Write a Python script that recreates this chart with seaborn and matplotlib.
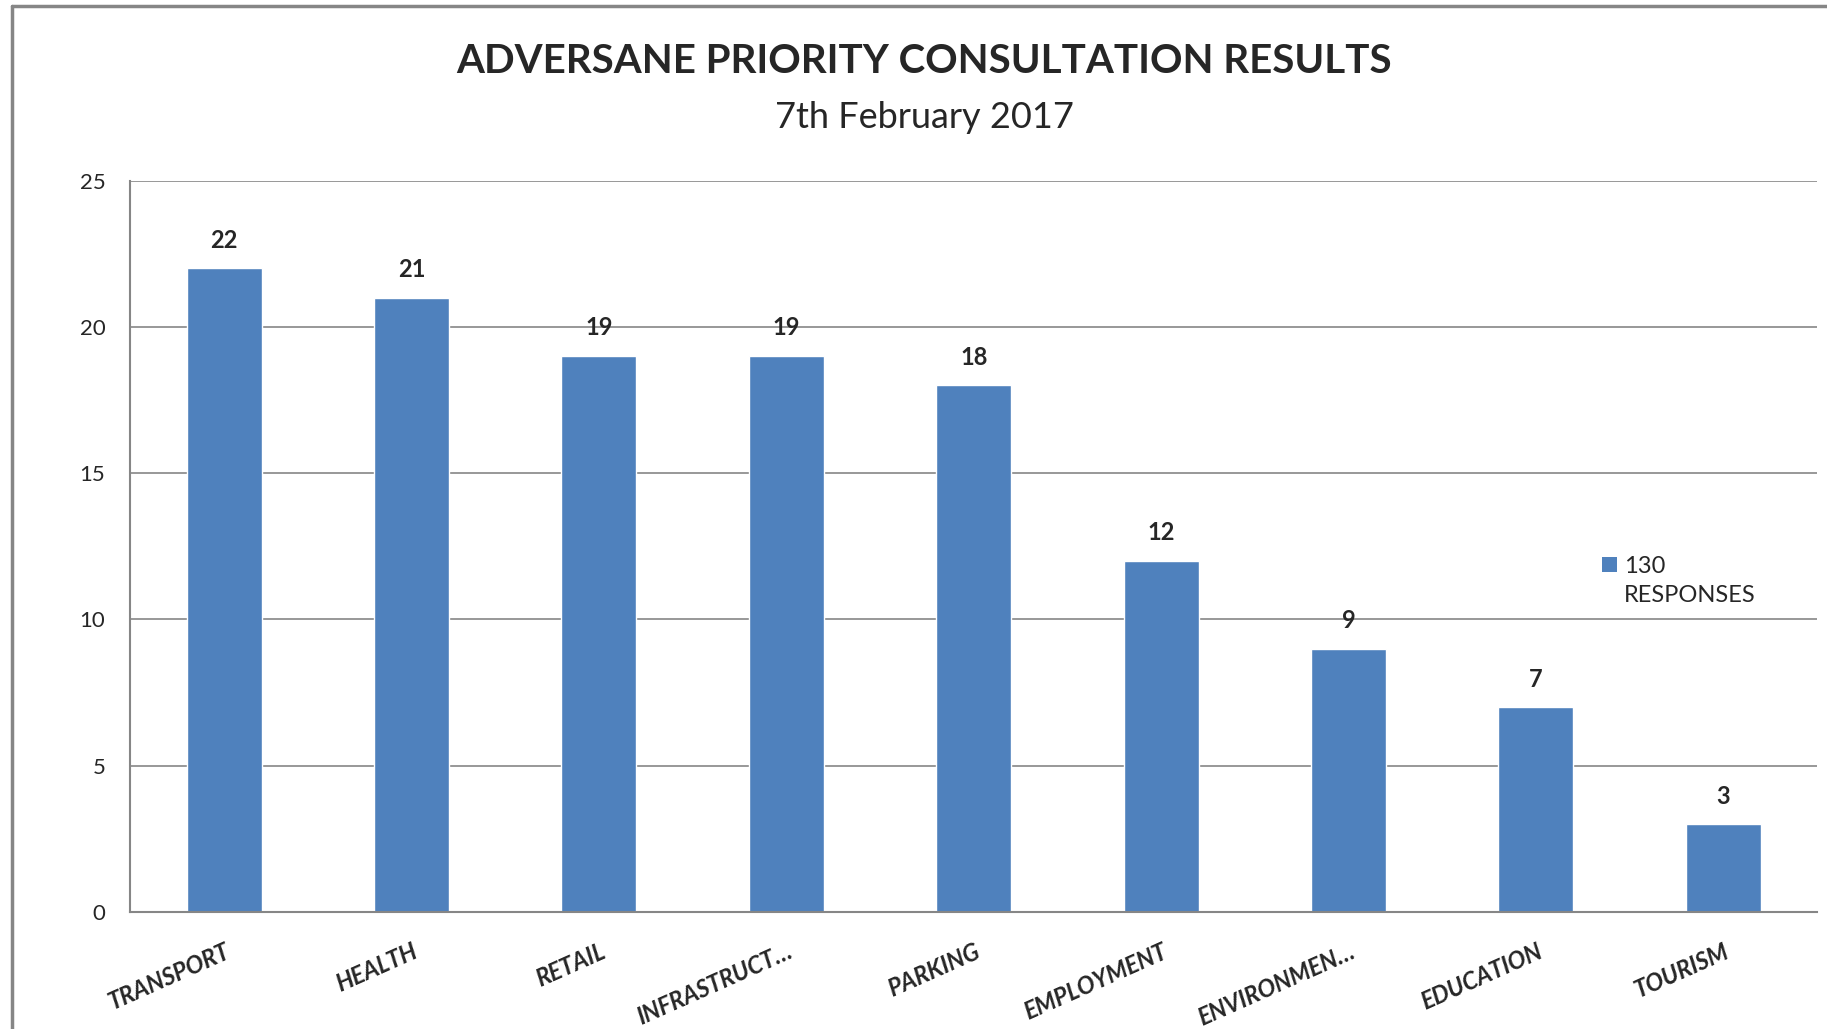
import pandas as pd
import matplotlib.pyplot as plt
import seaborn as sns
from matplotlib.patches import Patch, Rectangle
from matplotlib.lines import Line2D
from matplotlib.legend_handler import HandlerPatch

categories = ["TRANSPORT", "HEALTH", "RETAIL", "INFRASTRUCT\u2026", "PARKING",
              "EMPLOYMENT", "ENVIRONMEN\u2026", "EDUCATION", "TOURISM"]
values = [22, 21, 19, 19, 18, 12, 9, 7, 3]
series_name = "130\nRESPONSES"
y_ticks = [0, 5, 10, 15, 20, 25]

df = pd.DataFrame({"category": categories, "value": values})

sns.set_style("white")
plt.rcParams["font.family"] = ["Lato", "DejaVu Sans"]

bar_color = "#4F81BD"
grey = "#868686"


# square legend key next to the first line of a two-line label
class TopSquare(HandlerPatch):
    def create_artists(self, legend, orig_handle, xdescent, ydescent,
                       width, height, fontsize, trans):
        size = 0.62 * fontsize
        y = -ydescent + (height - size) / 2 + 0.72 * fontsize
        p = Rectangle((-xdescent, y), size, size, facecolor=bar_color,
                      edgecolor="none", transform=trans)
        return [p]


fig = plt.figure(figsize=(18.27, 10.29), dpi=100)
ax = fig.add_axes([0.0714, 0.1137, 0.9231, 0.7108])

sns.barplot(data=df, x="category", y="value", color=bar_color, width=0.4,
            saturation=1, ax=ax)

ax.set_xlim(-0.5, len(categories) - 0.5)
ax.set_ylim(0, 25)
ax.set_yticks(y_ticks)
ax.yaxis.grid(True, color=grey, linewidth=1.2)
ax.set_axisbelow(True)
ax.set_xlabel("")
ax.set_ylabel("")

for s in ["top", "right"]:
    ax.spines[s].set_visible(False)
for s in ["left", "bottom"]:
    ax.spines[s].set_color(grey)
    ax.spines[s].set_linewidth(1.5)

ax.tick_params(axis="y", length=7, width=1.2, color=grey, labelsize=16, pad=11)
ax.set_xticks(range(len(categories)))
ax.set_xticklabels(categories, rotation=24, ha="right", rotation_mode="anchor",
                   fontsize=17, fontweight="bold", fontstyle="italic")
ax.tick_params(axis="x", which="major", length=0, pad=20)
ax.set_xticks([i - 0.5 for i in range(len(categories) + 1)], minor=True)
ax.tick_params(axis="x", which="minor", length=8, width=1.2, color=grey)

for i, v in enumerate(values):
    ax.annotate(str(v), (i, v), xytext=(0, 12), textcoords="offset points",
                ha="center", va="bottom", fontsize=17, fontweight="bold")

handle = Patch(facecolor=bar_color, edgecolor="none")
leg = ax.legend([handle], [series_name], loc="upper left", bbox_to_anchor=(0.8725, 0.487),
                frameon=False, fontsize=17, handlelength=0.62, handleheight=0.62,
                handletextpad=0.3, borderaxespad=0, borderpad=0,
                handler_map={Patch: TopSquare()})
for t in leg.get_texts():
    t.set_linespacing(1.5)

fig.text(0.506, 0.940, "ADVERSANE PRIORITY CONSULTATION RESULTS", ha="center",
         va="center", fontsize=29, fontweight="bold")
fig.text(0.506, 0.886, "7th February 2017", ha="center", va="center", fontsize=26)

fig.add_artist(Line2D([0.0066, 0.0066], [0, 0.994], transform=fig.transFigure,
                      color=grey, linewidth=2.5))
fig.add_artist(Line2D([0.0066, 1.0], [0.994, 0.994], transform=fig.transFigure,
                      color=grey, linewidth=2.5))

fig.savefig("out.png", dpi=100, facecolor="white")
